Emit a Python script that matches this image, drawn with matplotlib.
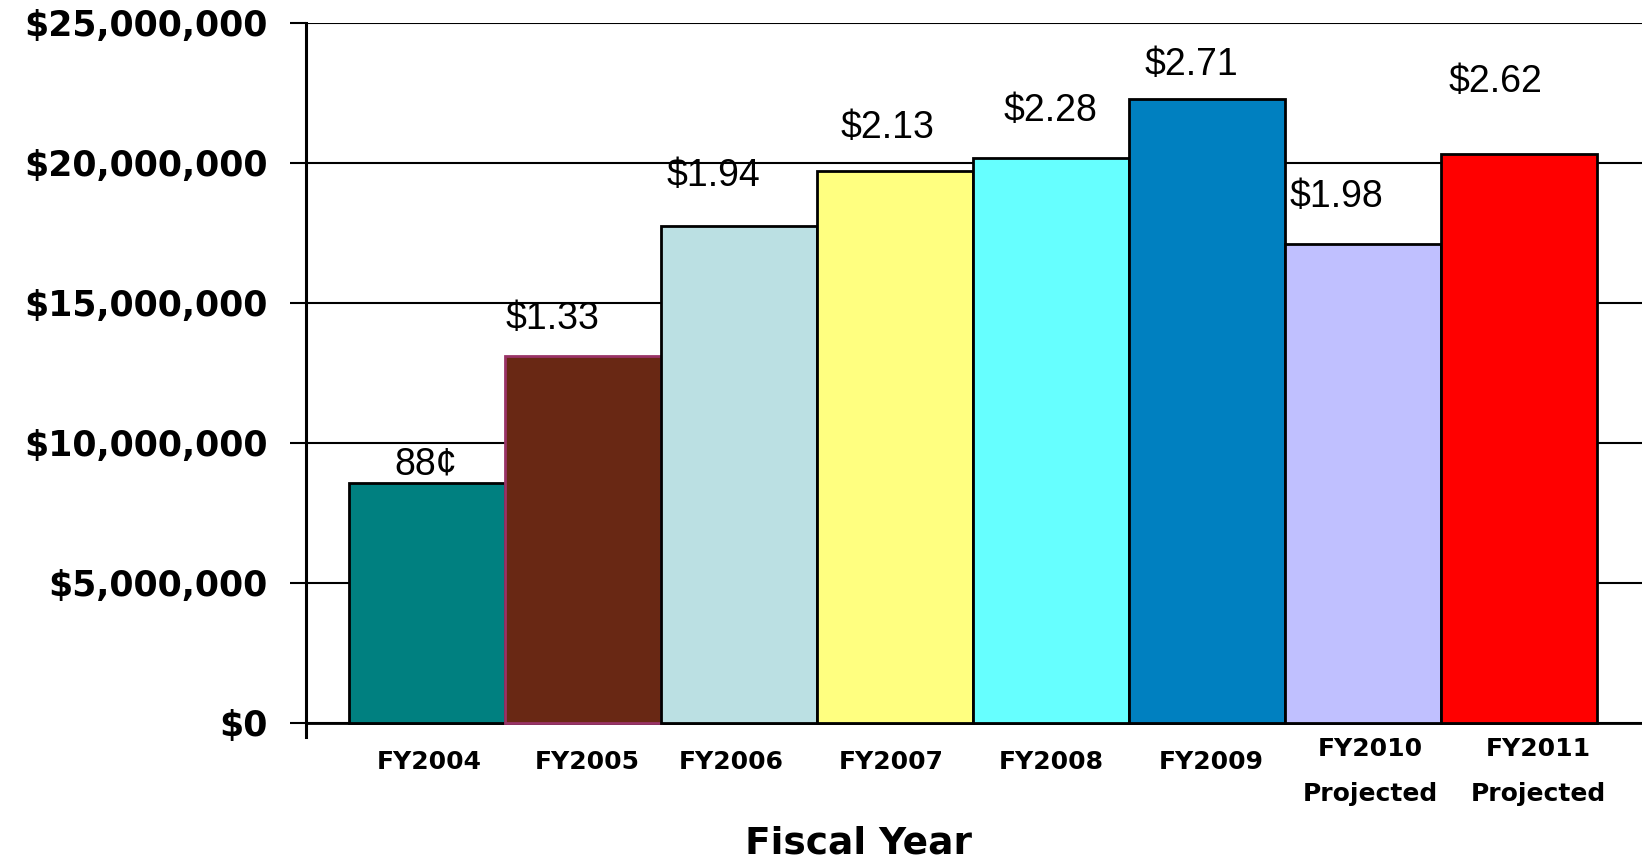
import matplotlib
matplotlib.use('Agg')
import matplotlib.pyplot as plt

# 회계연도별 금액과 막대 위 라벨
years = ['FY2004', 'FY2005', 'FY2006', 'FY2007', 'FY2008', 'FY2009',
         'FY2010\nProjected', 'FY2011\nProjected']
amounts = [8.55e6, 13.1e6, 17.73e6, 19.71e6, 20.16e6, 22.26e6, 17.1e6, 20.31e6]
rate_labels = ['88¢', '$1.33', '$1.94', '$2.13', '$2.28', '$2.71', '$1.98', '$2.62']
yticks = [0, 5e6, 10e6, 15e6, 20e6, 25e6]

colors = ['#008080', '#692814', '#BBE0E3', '#FFFF80', '#66FFFF', '#0080C0', '#C0C0FF', '#FF0000']
edges = ['black', '#993366', 'black', 'black', 'black', 'black', 'black', 'black']
# 라벨 위치 보정 (픽셀)
label_offsets = [(-1, 19), (-30, 37), (-25, 50), (-7, 43), (0, 47), (-15, 34), (-26, 47), (-23, 72)]
name_shift = [3, 5, -7, -3, 1, 5, 8, 20]

fig = plt.figure(figsize=(16.42, 8.64), dpi=100)
ax = fig.add_axes([0.1864, 0.1473, 0.8136, 0.8264])

x = list(range(len(years)))
ax.bar(x, amounts, width=1.0, color=colors, edgecolor=edges, linewidth=2, zorder=3)

for xi, val, lab, (dx, dy) in zip(x, amounts, rate_labels, label_offsets):
    ax.annotate(lab, xy=(xi, val), xytext=(dx, dy), textcoords='offset pixels',
                ha='center', va='center', fontsize=27, family='Liberation Sans', zorder=4)

ax.set_xlim(-0.772, 7.79)
ax.set_ylim(-0.5e6, 25e6)

# 눈금선과 축
ax.set_yticks(yticks)
ax.set_yticklabels(['${:,.0f}'.format(v) for v in yticks], fontsize=25,
                   fontweight='bold', family='DejaVu Sans')
ax.yaxis.grid(True, color='black', linewidth=1.5, zorder=0)
ax.set_axisbelow(True)
ax.axhline(0, color='black', linewidth=2, zorder=2)
ax.tick_params(axis='y', length=11.5, width=1.5, pad=16, direction='out')
ax.set_xticks([])
for side in ['top', 'right', 'bottom']:
    ax.spines[side].set_visible(False)
ax.spines['left'].set_linewidth(2.2)

# 범주 라벨
for xi, name, sx in zip(x, years, name_shift):
    dy = -49 if '\n' in name else -39
    ax.annotate(name, xy=(xi, 0), xytext=(sx, dy), textcoords='offset pixels',
                ha='center', va='center', fontsize=18, fontweight='bold',
                family='DejaVu Sans', linespacing=2.1, annotation_clip=False)

fig.text(0.523, 1 - 843 / 864, 'Fiscal Year', ha='center', va='center',
         fontsize=27, fontweight='bold', family='DejaVu Sans')

plt.savefig('out.png', dpi=100)
